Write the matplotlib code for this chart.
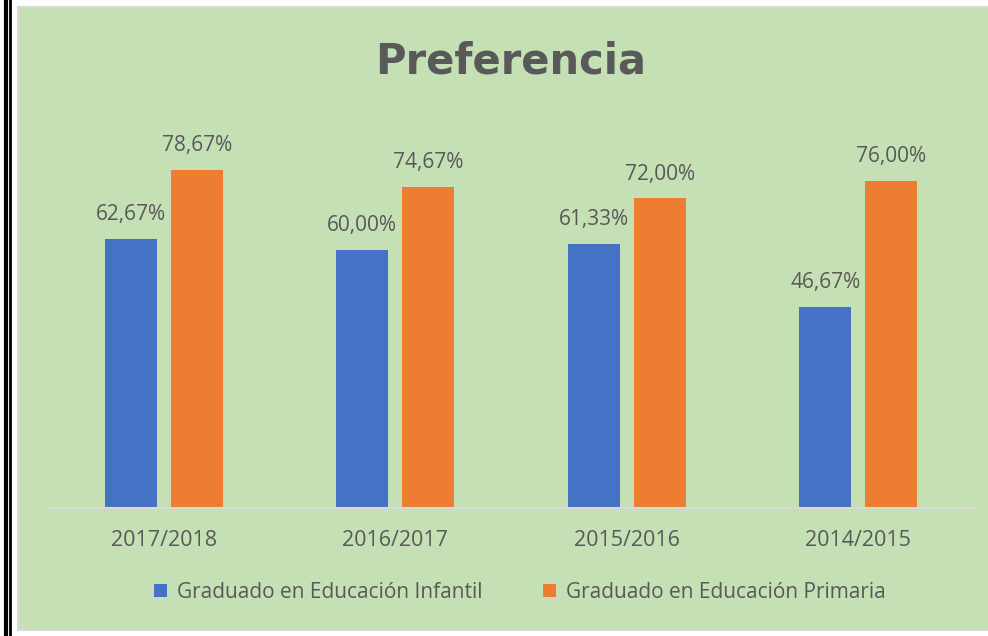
import matplotlib.pyplot as plt
import numpy as np
from matplotlib.patches import Rectangle
from matplotlib.lines import Line2D

# data
years = ["2017/2018", "2016/2017", "2015/2016", "2014/2015"]
infantil = [62.67, 60.00, 61.33, 46.67]
primaria = [78.67, 74.67, 72.00, 76.00]
series_names = ["Graduado en Educación Infantil", "Graduado en Educación Primaria"]

blue = "#4472c4"
orange = "#ed7d31"
green = "#c5e0b4"
text_gray = "#595959"

plt.rcParams['font.family'] = ['Open Sans', 'DejaVu Sans']

fig = plt.figure(figsize=(9.88, 6.36), dpi=100)
fig.patch.set_facecolor("white")

# green panel with grey frame
W, H = 988.0, 636.0
panel = Rectangle((18 / W, (H - 630) / H), (990 - 18) / W, (630 - 7) / H,
                  transform=fig.transFigure, facecolor=green,
                  edgecolor="#d9d9d9", linewidth=1.5, zorder=-5)
fig.patches.append(panel)

# double black line on the left
for xl, lw in [(5.5 / W, 3.0), (10 / W, 2.0)]:
    fig.lines.append(Line2D([xl, xl], [0, 1], transform=fig.transFigure,
                            color="black", linewidth=lw, zorder=-4))

ax = fig.add_axes([48 / W, (H - 508) / H, 926 / W, 387 / H])
ax.set_facecolor("none")
ax.set_zorder(2)

x = np.arange(len(years))
width = 0.225
off = 0.143
b1 = ax.bar(x - off, infantil, width, color=blue, label=series_names[0], zorder=2)
b2 = ax.bar(x + off, primaria, width, color=orange, label=series_names[1], zorder=2)

for bars, vals in [(b1, infantil), (b2, primaria)]:
    for r, v in zip(bars, vals):
        lbl = f"{v:.2f}%".replace(".", ",")
        ax.annotate(lbl, (r.get_x() + r.get_width() / 2, r.get_height()),
                    xytext=(0, 10), textcoords="offset points",
                    ha="center", va="bottom", fontsize=15, color=text_gray)

ax.set_xlim(-0.5, len(years) - 0.5)
ax.set_ylim(0, 90)
ax.set_yticks([])
ax.set_xticks(x)
ax.set_xticklabels(years, fontsize=15.5, color=text_gray)
ax.tick_params(axis="x", length=0, pad=16)
for s in ["top", "right", "left"]:
    ax.spines[s].set_visible(False)
ax.spines["bottom"].set_color("#d9d9d9")
ax.spines["bottom"].set_linewidth(1.5)

fig.text(511 / W, 1 - 61 / H, "Preferencia", ha="center", va="center",
         fontsize=30, fontweight="heavy", color=text_gray,
         family=["DejaVu Sans"])

leg = fig.legend(loc="center", bbox_to_anchor=(520 / W, 1 - 592 / H), ncol=2,
                 frameon=False, fontsize=15, handlelength=0.6, handleheight=0.6,
                 handletextpad=0.5, columnspacing=2.9)
for t in leg.get_texts():
    t.set_color(text_gray)

fig.savefig("out.png", dpi=100, facecolor=fig.get_facecolor())
